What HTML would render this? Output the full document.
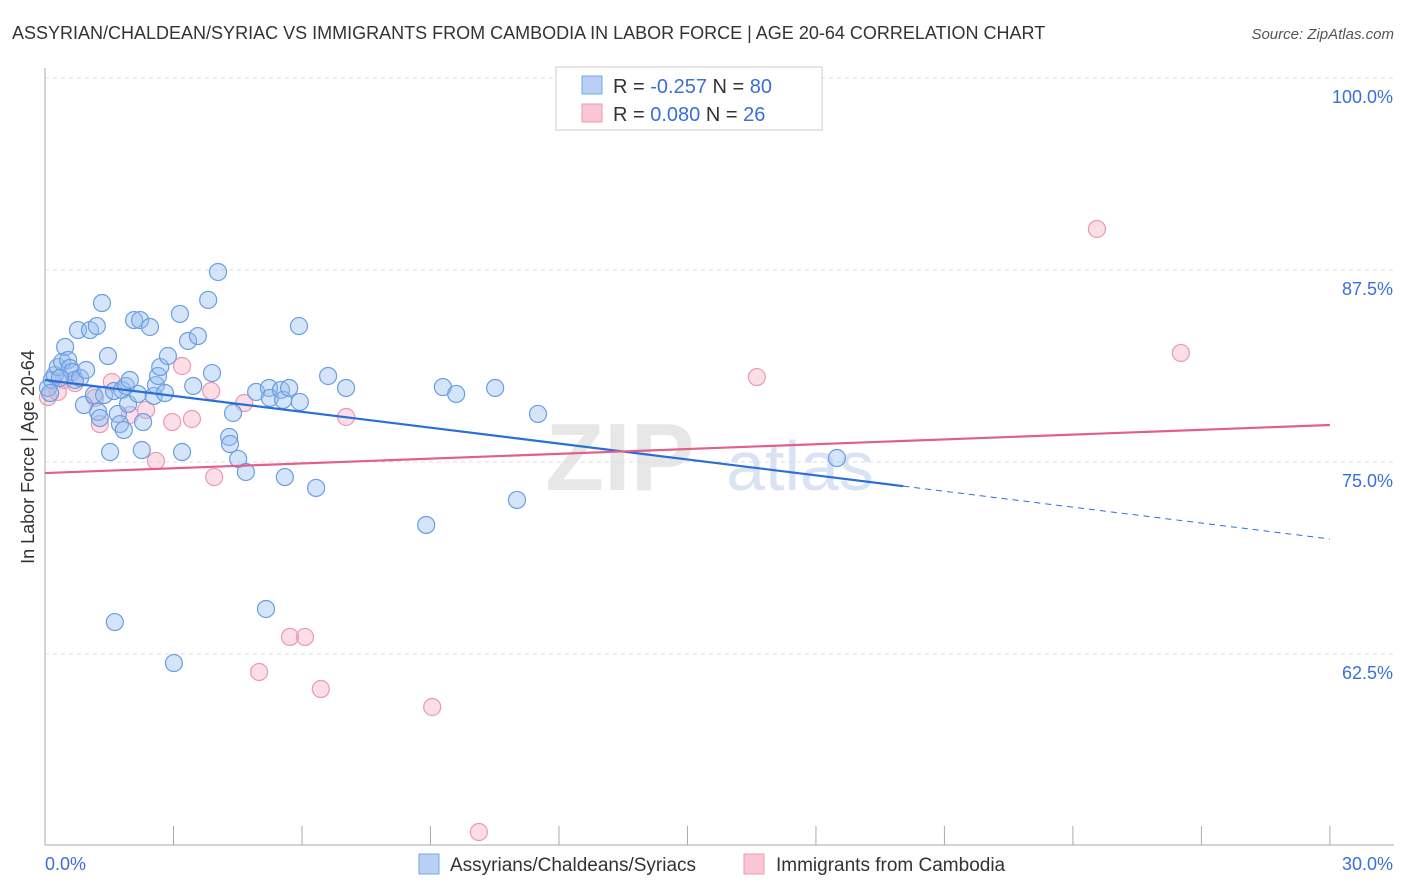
<!DOCTYPE html>
<html><head><meta charset="utf-8"><style>
body{margin:0;background:#fff;font-family:"Liberation Sans",sans-serif;}
svg{display:block}
</style></head><body>
<svg width="1406" height="892" id="c">
<text x="12" y="39" font-size="18" fill="#333">ASSYRIAN/CHALDEAN/SYRIAC VS IMMIGRANTS FROM CAMBODIA IN LABOR FORCE | AGE 20-64 CORRELATION CHART</text>
<text x="1394" y="39" font-size="15" fill="#555" text-anchor="end" font-style="italic">Source: ZipAtlas.com</text>
<text x="620" y="490" font-size="96" fill="#ddd" font-weight="bold" text-anchor="middle" opacity="0.7">ZIP</text>
<text x="800" y="490" font-size="70" fill="#c9d8ee" text-anchor="middle" opacity="0.7">atlas</text>
<text transform="translate(34,457) rotate(-90)" font-size="18" fill="#333" text-anchor="middle">In Labor Force | Age 20-64</text>
<g id="grid"></g><g id="marks"></g>
<g>
<rect x="556" y="67" width="266" height="63" fill="#fff" stroke="#ccc"/>
<rect x="582" y="76" width="20" height="18" fill="#b7d0f3" stroke="#7aa6e6"/>
<rect x="582" y="104" width="20" height="18" fill="#f9c6d4" stroke="#eb99b2"/>
<text x="613" y="93" font-size="20" fill="#333">R = <tspan fill="#3a6fd8">-0.257</tspan>   N = <tspan fill="#3a6fd8">80</tspan></text>
<text x="613" y="121" font-size="20" fill="#333">R =  <tspan fill="#3a6fd8">0.080</tspan>   N =  <tspan fill="#3a6fd8">26</tspan></text>
</g>
<g>
<rect x="419" y="854" width="20" height="20" fill="#b7d0f3" stroke="#7aa6e6"/>
<text x="450" y="871" font-size="19" fill="#333">Assyrians/Chaldeans/Syriacs</text>
<rect x="744" y="854" width="20" height="20" fill="#f9c6d4" stroke="#eb99b2"/>
<text x="776" y="871" font-size="19" fill="#333">Immigrants from Cambodia</text>
</g>
</svg>
<script>
const blueX=[0.07,0.16,0.23,0.30,0.40,0.47,0.54,0.58,0.63,0.70,0.77,0.82,0.91,0.96,1.05,1.14,1.21,1.24,1.28,1.33,1.38,1.47,1.52,1.61,1.63,1.70,1.75,1.80,1.84,1.89,1.94,2.08,2.17,2.22,2.26,2.29,2.45,2.54,2.59,2.64,2.69,2.80,2.87,3.01,3.15,3.20,3.34,3.46,3.57,3.81,3.90,4.04,4.30,4.32,4.39,4.51,4.69,4.93,5.16,5.23,5.25,5.51,5.56,5.60,5.70,5.95,5.93,6.33,6.61,7.03,8.90,9.29,9.60,10.51,11.02,11.51,18.49,0.12,0.35,1.98];
const blueY=[79.82,80.34,80.66,81.18,81.51,82.49,81.64,81.12,80.86,80.34,83.59,80.47,78.71,80.99,83.59,79.36,83.85,78.26,77.86,85.35,79.36,81.90,75.65,79.62,64.58,78.13,77.47,79.69,77.08,79.95,78.78,84.24,79.43,84.24,75.78,77.60,83.79,79.30,80.01,80.60,81.18,79.49,81.90,61.91,84.64,75.65,82.88,79.95,83.20,85.55,80.79,87.37,76.63,76.17,78.19,75.20,74.35,79.56,65.43,79.82,79.17,79.69,79.04,74.02,79.82,78.91,83.85,73.31,80.60,79.82,70.90,79.88,79.43,79.82,72.53,78.13,75.26,79.49,80.47,80.34];
const pinkX=[0.07,0.30,0.44,0.70,1.17,1.28,1.56,1.98,2.36,2.59,2.97,3.20,3.43,3.88,3.95,4.65,5.00,5.72,6.07,6.44,7.03,9.04,10.13,16.62,24.56,26.52];
const pinkY=[79.23,79.56,80.34,80.14,79.17,77.47,80.21,78.06,78.39,75.07,77.60,81.25,77.80,79.62,74.02,78.84,61.33,63.61,63.61,60.22,77.93,59.05,50.91,80.53,90.17,82.10];
const yTicks=[100,87.5,75,62.5];
const yTickLabels=["100.0%","87.5%","75.0%","62.5%"];
const xTicks=[0,3,6,9,12,15,18,21,24,27,30];
const blueTrend=[80.34,69.99], blueSolidEnd=20.04;
const pinkTrend=[74.28,77.41];
const X=v=>45+v*42.83, Y=v=>78+(100-v)*15.36;
const NS="http://www.w3.org/2000/svg";
function el(t,a,p){const e=document.createElementNS(NS,t);for(const k in a)e.setAttribute(k,a[k]);p.appendChild(e);return e;}
const g=document.getElementById('grid'), m=document.getElementById('marks');
yTicks.forEach((t,i)=>{
 const l=el('line',{x1:45,x2:1394,y1:Y(t),y2:Y(t),stroke:'#ddd','stroke-dasharray':'4,4'},g);
 
 
 const tx=el('text',{x:1393,y:Y(t)+25,'font-size':18,fill:'#3a6fd8','text-anchor':'end'},g);
 tx.textContent=yTickLabels[i];
 
 
});
const ax=el('line',{x1:45,x2:1394,y1:845,y2:845,stroke:'#aaa'},g);


const ay=el('line',{x1:45,x2:45,y1:68,y2:845,stroke:'#aaa'},g);


xTicks.forEach(t=>{const l=el('line',{x1:X(t),x2:X(t),y1:826,y2:845,stroke:'#aaa'},g);
 
 });
[[45,'0.0%','start'],[1393,'30.0%','end']].forEach(([x,s,a])=>{const t=el('text',{x:x,y:870,'font-size':18,fill:'#3a6fd8','text-anchor':a},g);t.textContent=s;
 
 });
pinkX.forEach((x,i)=>{const c=el('circle',{cx:X(x),cy:Y(pinkY[i]),r:8.5,fill:'rgba(245,160,185,0.35)',stroke:'#eb99b2','stroke-width':1.2},m);
 
 });
blueX.forEach((x,i)=>{const c=el('circle',{cx:X(x),cy:Y(blueY[i]),r:8.5,fill:'rgba(150,190,240,0.4)',stroke:'#6a9de3','stroke-width':1.2},m);
 
 });
const bAt=x=>blueTrend[0]+(blueTrend[1]-blueTrend[0])*x/30;
const b1=el('line',{x1:X(0),y1:Y(blueTrend[0]),x2:X(blueSolidEnd),y2:Y(bAt(blueSolidEnd)),stroke:'#2a6fd6','stroke-width':2.2},m);


const b2=el('line',{x1:X(blueSolidEnd),y1:Y(bAt(blueSolidEnd)),x2:X(30),y2:Y(blueTrend[1]),stroke:'#2a6fd6','stroke-width':1,'stroke-dasharray':'6,5'},m);


const p1=el('line',{x1:X(0),y1:Y(pinkTrend[0]),x2:X(30),y2:Y(pinkTrend[1]),stroke:'#e0608a','stroke-width':2.2},m);


</script>
</body></html>
